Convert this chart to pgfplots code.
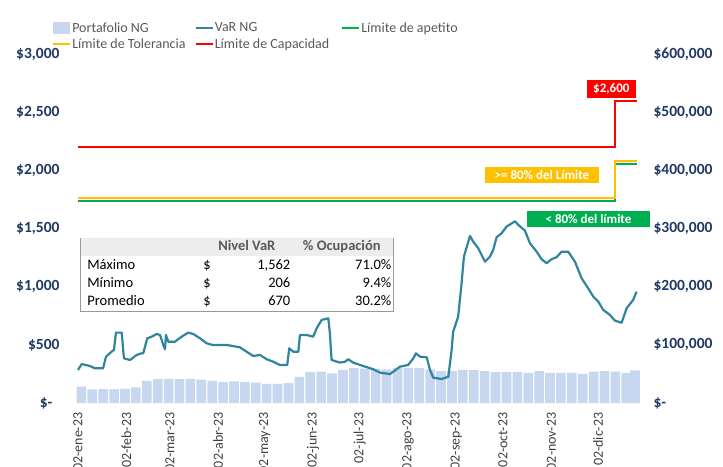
\documentclass[border=0pt]{standalone}
\usepackage[table]{xcolor}
\usepackage{pgfplots}
\pgfplotsset{compat=1.18}
\usepackage{fontspec}
\setmainfont{Carlito}
\usepackage{array}
\definecolor{barblue}{HTML}{C6D7EF}
\definecolor{varteal}{HTML}{31849B}
\definecolor{capred}{HTML}{FF0000}
\definecolor{tolyellow}{HTML}{FFC000}
\definecolor{apgreen}{HTML}{00B050}
\definecolor{ticknavy}{HTML}{1F3864}
\definecolor{legendgray}{HTML}{595959}
\definecolor{xgray}{HTML}{404040}
\definecolor{tablegray}{HTML}{EDEDED}
\begin{document}
\begin{tikzpicture}
\path[use as bounding box] (-73pt,-63pt) rectangle (650pt,403pt);
% right axis: portfolio bars
\begin{axis}[
  scale only axis, width=567pt, height=349pt,
  xmin=-3.2, xmax=361, ymin=0, ymax=600000,
  axis y line*=right, axis x line=none,
  axis line style={draw=none}, major tick length=0pt,
  scaled y ticks=false,
  ytick={0,100000,200000,300000,400000,500000,600000},
  yticklabels={\$-,{\$100,000},{\$200,000},{\$300,000},{\$400,000},{\$500,000},{\$600,000}},
  yticklabel style={anchor=west, xshift=10pt, text=ticknavy, font=\fontsize{15.5}{18}\selectfont\bfseries},
]
\addplot[ybar, bar width=6.2, fill=barblue, draw=none] coordinates {
(2.2,28000) (9.2,23500) (16.2,24000) (23.2,24000) (30.2,24500) (37.2,27000)
(44.2,38000) (51.2,41000) (58.2,41000) (65.2,41000) (72.2,41000) (79.2,40000)
(86.2,38000) (93.2,36000) (100.2,37000) (107.2,36000) (114.2,35000) (121.2,33000)
(128.2,33000) (135.2,34000) (142.2,45000) (149.2,53000) (156.2,54000) (163.2,51000)
(170.2,57000) (177.2,60000) (184.2,59000) (191.2,59000) (198.2,58000) (205.2,60000)
(212.2,60000) (219.2,60000) (226.2,58000) (233.2,55000) (240.2,55000) (247.2,57000)
(254.2,57000) (261.2,55000) (268.2,53000) (275.2,53000) (282.2,53000) (289.2,52000)
(296.2,55000) (303.2,52000) (310.2,52000) (317.2,52000) (324.2,50000) (331.2,54000)
(338.2,55000) (345.2,54000) (352.2,52000) (357.8,56000)
};
\end{axis}
% left axis: VaR and limits
\begin{axis}[
  scale only axis, width=567pt, height=349pt,
  xmin=-3.2, xmax=361, ymin=0, ymax=3000,
  axis y line*=left, axis x line*=bottom,
  axis line style={draw=none}, major tick length=0pt,
  clip=false,
  ytick={0,500,1000,1500,2000,2500,3000},
  yticklabels={\$-\hspace*{7pt},\$500,{\$1,000},{\$1,500},{\$2,000},{\$2,500},{\$3,000}},
  yticklabel style={anchor=east, xshift=-10pt, text=ticknavy, font=\fontsize{15.5}{18}\selectfont\bfseries},
  xtick={0,31,59,90,120,151,181,212,243,273,304,334},
  xticklabels={02-ene-23,02-feb-23,02-mar-23,02-abr-23,02-may-23,02-jun-23,02-jul-23,02-ago-23,02-sep-23,02-oct-23,02-nov-23,02-dic-23},
  xticklabel style={rotate=90, anchor=east, xshift=-6pt, text=xgray, font=\fontsize{14}{16}\selectfont},
  legend columns=3,
  legend cell align=left,
  legend style={at={(axis description cs:-0.037,1.094)}, anchor=north west, draw=none, fill=none,
    font=\fontsize{14}{16}\selectfont, text=legendgray, inner sep=0pt, row sep=3pt,
    nodes={inner sep=1pt},
    /tikz/column 2/.style={column sep=8pt},
    /tikz/column 4/.style={column sep=11pt}},
]
\addlegendimage{legend image code/.code={\fill[barblue] (0pt,-5pt) rectangle (16pt,6pt);}}
\addlegendentry{Portafolio NG}
\addplot[varteal, line width=2.2pt, line join=round] coordinates {
(0,284) (2.4,335) (7.7,318) (10.9,298) (16.1,298) (18.0,398) (21.6,441) (23.1,456)
(24.4,605) (28.1,605) (29.5,384) (33.4,370) (37.7,413) (40.9,427) (41.9,427)
(44.5,556) (47.3,570) (50.5,593) (52.7,585) (54.8,499) (55.9,462) (56.5,585)
(58.0,527) (62.3,527) (66.6,570) (70.8,605) (74.1,593) (78.4,556) (82.7,513)
(86.5,499) (95.5,499) (104.0,479) (108.3,441) (112.6,404) (116.9,413) (121.2,376)
(125.4,355) (129.7,327) (134.4,327) (135.7,470) (138.3,441) (141.5,441) (142.6,585)
(146.9,585) (151.1,570) (153.3,642) (156.5,714) (160.8,728) (161.8,599) (162.9,370)
(168.3,347) (171.5,355) (173.6,376) (176.8,347) (183.2,318) (189.7,290) (194.0,261)
(200.4,249) (202.5,269) (206.8,312) (212.1,327) (215.4,384) (217.1,427) (219.7,398)
(224.0,393) (226.1,284) (228.2,218) (233.6,206) (237.9,226) (240.0,456) (241.0,613)
(244.2,742) (246.4,1029) (247.9,1258) (251.8,1436) (253.9,1387) (257.1,1330)
(261.4,1215) (264.6,1258) (266.7,1316) (268.9,1425) (272.1,1459) (275.3,1516)
(280.7,1562) (282.8,1531) (287.1,1482) (290.3,1373) (294.6,1301) (297.8,1236)
(301.0,1201) (304.2,1236) (307.4,1253) (310.7,1301) (314.9,1301) (319.2,1215)
(323.5,1072) (327.7,986) (331.0,914) (334.2,871) (337.4,800) (341.7,757) (344.9,708)
(349.2,690) (352.4,814) (356.6,886) (358.8,957)
};
\addlegendentry{VaR NG}
\addplot[apgreen, line width=2pt] coordinates {(0,1740) (345,1740) (345,2055) (359,2055)};
\addlegendentry{Límite de apetito}
\addplot[tolyellow, line width=2pt] coordinates {(0,1760) (345,1760) (345,2080) (359,2080)};
\addlegendentry{Límite de Tolerancia}
\addplot[capred, line width=2pt] coordinates {(0,2200) (345,2200) (345,2600) (359,2600)};
\addlegendentry{Límite de Capacidad}
% annotations
\node[fill=capred, text=white, font=\fontsize{13}{15}\selectfont\bfseries, inner xsep=6pt, minimum height=18pt] at (axis cs:342.6,2700) {\$2,600};
\node[fill=tolyellow, text=white, font=\fontsize{13}{15}\selectfont\bfseries, inner sep=0pt, minimum width=114pt, minimum height=16pt] at (axis cs:298,1960) {>= 80\% del Límite};
\node[fill=apgreen, text=white, font=\fontsize{13}{15}\selectfont\bfseries, inner sep=0pt, minimum width=123pt, minimum height=16pt] at (axis cs:327.9,1578) {< 80\% del límite};
% summary table
\node[anchor=north west, inner sep=0pt, draw=gray!80, line width=0.6pt, fill=white,
  font=\fontsize{14.5}{17}\selectfont] at (axis cs:1.3,1419) {%
  \renewcommand{\arraystretch}{1.07}%
  \begin{tabular}{@{\hspace{7pt}}p{116pt}@{}p{10pt}@{}>{\raggedleft\arraybackslash}p{77pt}@{}>{\raggedleft\arraybackslash}p{101pt}@{\hspace{2pt}}}
  \rowcolor{tablegray} & \multicolumn{2}{c}{\textcolor{legendgray}{\bfseries Nivel VaR}} & \multicolumn{1}{c}{\textcolor{legendgray}{\bfseries \% Ocupación}}\\
  Máximo & \$ & 1,562 & 71.0\%\\
  Mínimo & \$ & 206 & 9.4\%\\
  Promedio & \$ & 670 & 30.2\%
  \end{tabular}};
\end{axis}
\end{tikzpicture}
\end{document}
